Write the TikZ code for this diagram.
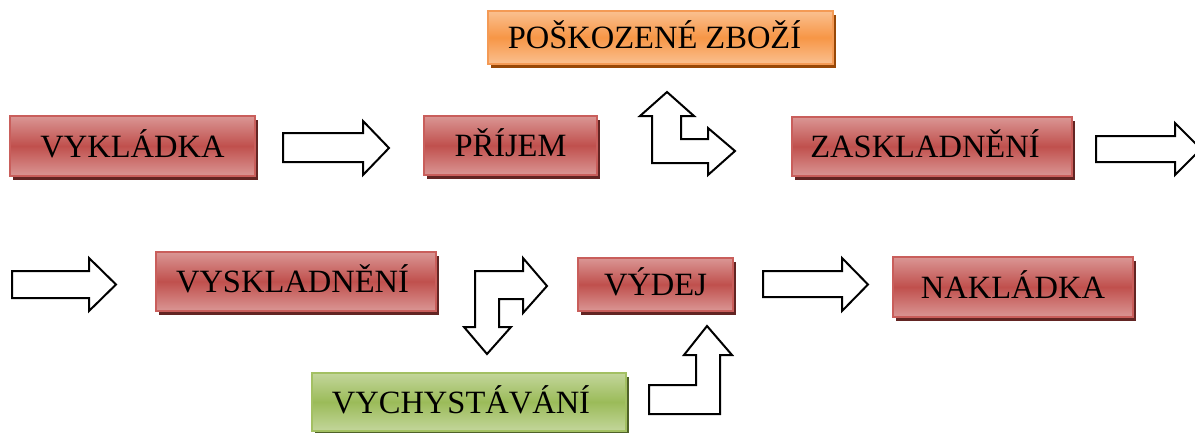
\documentclass[tikz,border=0pt]{standalone}
\usepackage{fontspec}
\setmainfont{Liberation Serif}
\usetikzlibrary{shadows}
\definecolor{redmid}{HTML}{C0504D}
\definecolor{redlight}{HTML}{DA9694}
\definecolor{redline}{HTML}{C95E5B}
\definecolor{redshadow}{HTML}{632523}
\definecolor{ormid}{HTML}{F79646}
\definecolor{orlight}{HTML}{FAC090}
\definecolor{orline}{HTML}{F49A55}
\definecolor{orshadow}{HTML}{984807}
\definecolor{grmid}{HTML}{9BBB59}
\definecolor{grlight}{HTML}{C3D69B}
\definecolor{grline}{HTML}{A3C063}
\definecolor{grshadow}{HTML}{4F6228}
\tikzset{
  box/.style={rectangle, inner sep=0pt, line width=1.5pt, text=black,
    font=\fontsize{32.5}{38}\selectfont, text height=22.5pt, text depth=0pt},
  redbox/.style={box, draw=redline, top color=redlight, bottom color=redlight, middle color=redmid,
    general shadow={fill=redshadow, shadow xshift=3pt, shadow yshift=-4pt}},
  orbox/.style={box, draw=orline, top color=orlight, bottom color=orlight, middle color=ormid,
    general shadow={fill=orshadow, shadow xshift=3pt, shadow yshift=-4pt}},
  grbox/.style={box, draw=grline, top color=grlight, bottom color=grlight, middle color=grmid,
    general shadow={fill=grshadow, shadow xshift=3pt, shadow yshift=-4pt}},
  blockarrow/.style={draw=black, fill=white, line width=2pt, line join=miter}
}
\begin{document}
\begin{tikzpicture}[x=1pt, y=-1pt]
\useasboundingbox (0,0) rectangle (1195,432);
% boxes
\node[redbox, minimum width=245pt, minimum height=60pt] (vykladka) at (132.5,146) {VYKLÁDKA};
\node[redbox, minimum width=173pt, minimum height=59pt] (prijem) at (510.5,145.5) {PŘÍJEM};
\node[orbox, minimum width=345pt, minimum height=53pt] (poskozene) at (660.5,37.5) {\hspace*{-12pt}POŠKOZENÉ ZBOŽÍ};
\node[redbox, minimum width=280pt, minimum height=59pt] (zaskladneni) at (932,146.5) {\hspace*{-14pt}ZASKLADNĚNÍ};
\node[redbox, minimum width=280pt, minimum height=59pt] (vyskladneni) at (296,281.5) {\hspace*{-7pt}VYSKLADNĚNÍ};
\node[redbox, minimum width=155pt, minimum height=53pt] (vydej) at (655.5,284.5) {VÝDEJ};
\node[redbox, minimum width=240pt, minimum height=60pt] (nakladka) at (1013,287) {NAKLÁDKA};
\node[grbox, minimum width=314pt, minimum height=58pt] (vychystavani) at (469,402) {\hspace*{-16pt}VYCHYSTÁVÁNÍ};
% block arrows
\draw[blockarrow] (283,133) -- (363,133) -- (363,121) -- (389,148) -- (363,175) -- (363,162) -- (283,162) -- cycle;
\draw[blockarrow] (1096,136) -- (1175,136) -- (1175,123) -- (1201,149) -- (1175,175) -- (1175,162) -- (1096,162) -- cycle;
\draw[blockarrow] (12,271) -- (89,271) -- (89,258) -- (116,284.5) -- (89,311) -- (89,298) -- (12,298) -- cycle;
\draw[blockarrow] (763,271) -- (842,271) -- (842,258) -- (868,284.5) -- (842,311) -- (842,297) -- (763,297) -- cycle;
\draw[blockarrow] (652,163) -- (652,116) -- (640,116) -- (667,92) -- (694,116) -- (681,116) -- (681,139) -- (708,139) -- (708,128) -- (735,151) -- (708,175) -- (708,163) -- cycle;
\draw[blockarrow] (475,271) -- (523,271) -- (523,258) -- (547,286) -- (523,313) -- (523,299) -- (499,299) -- (499,327) -- (511,327) -- (487,354) -- (464,327) -- (475,327) -- cycle;
\draw[blockarrow] (649,414) -- (649,385) -- (696,385) -- (696,355) -- (684,355) -- (707,326) -- (732,355) -- (720,355) -- (720,414) -- cycle;
\end{tikzpicture}
\end{document}
